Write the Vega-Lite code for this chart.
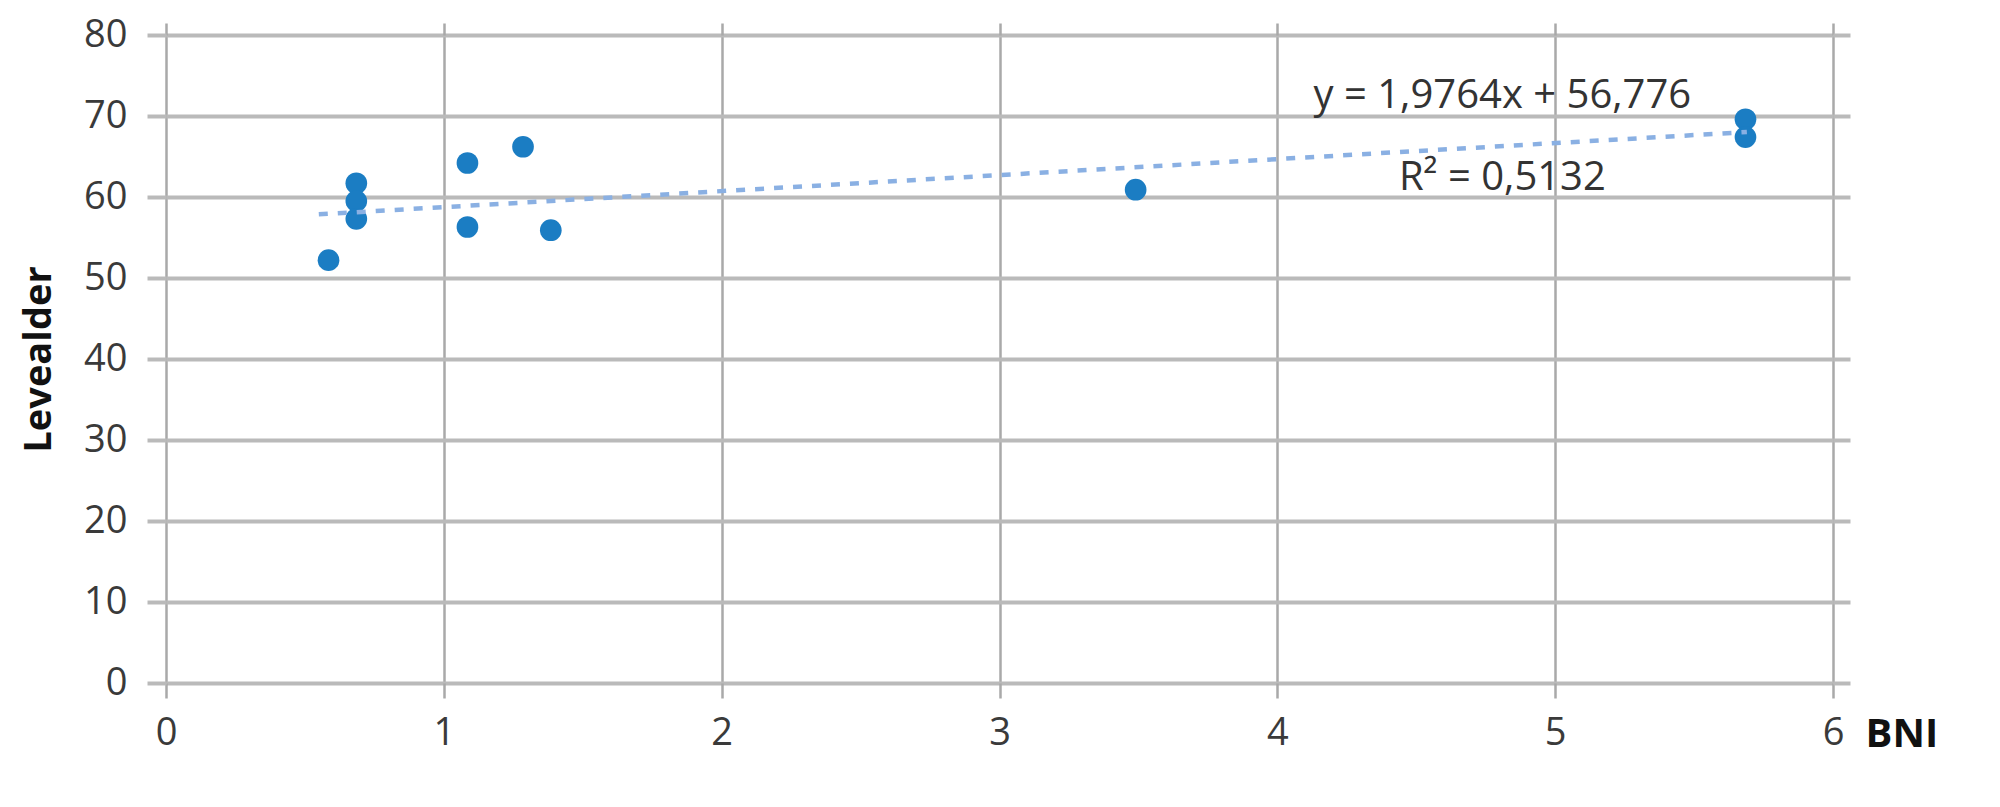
{
  "$schema": "https://vega.github.io/schema/vega-lite/v6.json",
  "width": 1667,
  "height": 648,
  "autosize": {"type": "none"},
  "padding": {"left": 166, "top": 35, "right": 167, "bottom": 124},
  "background": "white",
  "datasets": {
    "countries": [
      {"BNI": 0.585, "Levealder": 52.2},
      {"BNI": 0.685, "Levealder": 61.7},
      {"BNI": 0.685, "Levealder": 59.5},
      {"BNI": 0.685, "Levealder": 57.3},
      {"BNI": 1.085, "Levealder": 64.2},
      {"BNI": 1.085, "Levealder": 56.3},
      {"BNI": 1.285, "Levealder": 66.2},
      {"BNI": 1.385, "Levealder": 55.9},
      {"BNI": 3.49, "Levealder": 60.9},
      {"BNI": 5.685, "Levealder": 69.6},
      {"BNI": 5.685, "Levealder": 67.4}
    ],
    "trend": [
      {"BNI": 0.55, "Levealder": 57.86},
      {"BNI": 5.69, "Levealder": 68.02}
    ],
    "notes": [
      {"BNI": 4.81, "Levealder": 71.0, "label": "y = 1,9764x + 56,776"},
      {"BNI": 4.81, "Levealder": 60.9, "label": "R² = 0,5132"}
    ]
  },
  "encoding": {
    "x": {
      "field": "BNI",
      "type": "quantitative",
      "scale": {"domain": [0, 6], "nice": false, "zero": true}
    },
    "y": {
      "field": "Levealder",
      "type": "quantitative",
      "scale": {"domain": [0, 80], "nice": false}
    }
  },
  "layer": [
    {
      "data": {"name": "countries"},
      "mark": {"type": "circle", "size": 470, "opacity": 1, "color": "#1b7dc3"},
      "encoding": {
        "x": {
          "field": "BNI",
          "type": "quantitative",
          "axis": {
            "orient": "bottom",
            "values": [0, 1, 2, 3, 4, 5, 6],
            "domain": false,
            "grid": true,
            "gridColor": "#a9a9a9",
            "gridWidth": 2.5,
            "tickColor": "#a9a9a9",
            "tickWidth": 2.5,
            "tickSize": 15,
            "labelPadding": 16,
            "labelFont": "Open Sans",
            "labelFontSize": 38,
            "labelColor": "#3a3a3a",
            "labelFlush": false,
            "title": "BNI",
            "titleFont": "Open Sans",
            "titleFontSize": 40,
            "titleFontWeight": "bold",
            "titleColor": "#111111",
            "titleAlign": "left",
            "titleBaseline": "middle",
            "titleX": 1699,
            "titleY": 51
          }
        },
        "y": {
          "field": "Levealder",
          "type": "quantitative",
          "axis": {
            "orient": "left",
            "values": [0, 10, 20, 30, 40, 50, 60, 70, 80],
            "domain": false,
            "grid": true,
            "gridColor": "#bababa",
            "gridWidth": 4,
            "tickColor": "#bababa",
            "tickWidth": 4,
            "tickSize": 19,
            "labelPadding": 20,
            "labelFont": "Open Sans",
            "labelFontSize": 38,
            "labelColor": "#3a3a3a",
            "labelFlush": false,
            "title": "Levealder",
            "titleFont": "Open Sans",
            "titleFontSize": 38,
            "titleFontWeight": "bold",
            "titleColor": "#111111",
            "titleAngle": -90,
            "titleAlign": "center",
            "titleBaseline": "middle",
            "titleX": -127,
            "titleY": 324
          }
        }
      }
    },
    {
      "data": {"name": "trend"},
      "mark": {"type": "line", "color": "#8ab0e3", "strokeWidth": 4.5, "strokeDash": [9, 10]},
      "encoding": {
        "x": {"field": "BNI", "type": "quantitative", "axis": null},
        "y": {"field": "Levealder", "type": "quantitative", "axis": null}
      }
    },
    {
      "data": {"name": "notes"},
      "mark": {"type": "text", "font": "Open Sans", "fontSize": 40, "color": "#333333", "align": "center", "baseline": "alphabetic"},
      "encoding": {
        "text": {"field": "label", "type": "nominal"},
        "x": {
          "field": "BNI",
          "type": "quantitative",
          "axis": {
            "orient": "top",
            "values": [0, 1, 2, 3, 4, 5, 6],
            "domain": false,
            "grid": false,
            "labels": false,
            "tickColor": "#a9a9a9",
            "tickWidth": 2.5,
            "tickSize": 12,
            "title": null
          }
        },
        "y": {
          "field": "Levealder",
          "type": "quantitative",
          "axis": {
            "orient": "right",
            "values": [0, 10, 20, 30, 40, 50, 60, 70, 80],
            "domain": false,
            "grid": false,
            "labels": false,
            "tickColor": "#bababa",
            "tickWidth": 4,
            "tickSize": 17,
            "title": null
          }
        }
      }
    }
  ],
  "resolve": {"axis": {"x": "independent", "y": "independent"}},
  "config": {"view": {"stroke": null}}
}
